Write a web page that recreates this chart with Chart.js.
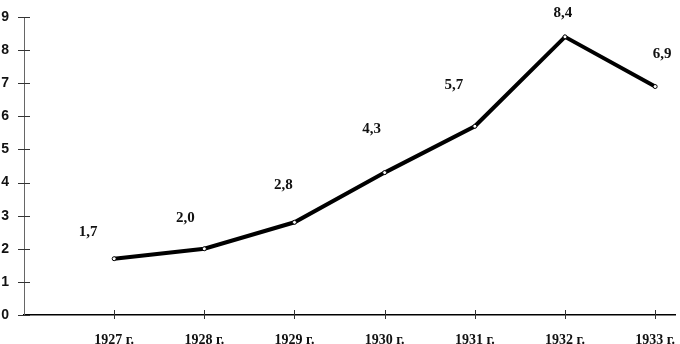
<!DOCTYPE html>
<html>
<head>
<meta charset="utf-8">
<script src="https://cdn.jsdelivr.net/npm/chart.js@4"></script>
<style>
  body { margin: 0; background: #fff; }
  canvas { display: block; }
</style>
</head>
<body>
<canvas id="myChart" width="680" height="344"></canvas>
<script>
const years = [1927, 1928, 1929, 1930, 1931, 1932, 1933];
const values = [1.7, 2.0, 2.8, 4.3, 5.7, 8.4, 6.9];
const valueLabels = ["1,7", "2,0", "2,8", "4,3", "5,7", "8,4", "6,9"];
const yTicks = [0, 1, 2, 3, 4, 5, 6, 7, 8, 9];

// label offsets from each point, in px
const labelOffsets = [[-26, -27], [-19, -31], [-11, -37], [-13, -43], [-21, -41], [-2, -24], [7, -32]];

const crossTicks = {
  id: "crossTicks",
  afterDraw(chart) {
    const ctx = chart.ctx;
    const x = chart.scales.x;
    const y = chart.scales.y;
    ctx.save();
    ctx.strokeStyle = "#333";
    ctx.lineWidth = 1;
    ctx.beginPath();
    yTicks.forEach((v) => {
      const py = Math.round(y.getPixelForValue(v)) + 0.5;
      ctx.moveTo(x.left - 6, py);
      ctx.lineTo(x.left + 6, py);
    });
    years.forEach((v) => {
      const px = Math.round(x.getPixelForValue(v)) + 0.5;
      ctx.moveTo(px, y.bottom - 5);
      ctx.lineTo(px, y.bottom + 4);
    });
    ctx.stroke();
    ctx.restore();
  },
};

const pointLabels = {
  id: "pointLabels",
  afterDatasetsDraw(chart) {
    const ctx = chart.ctx;
    const meta = chart.getDatasetMeta(0);
    ctx.save();
    ctx.fillStyle = "#111";
    ctx.font = "bold 15px 'Liberation Serif', serif";
    ctx.textAlign = "center";
    ctx.textBaseline = "middle";
    meta.data.forEach((pt, i) => {
      ctx.fillText(valueLabels[i], pt.x + labelOffsets[i][0], pt.y + labelOffsets[i][1]);
    });
    ctx.restore();
  },
};

new Chart(document.getElementById("myChart"), {
  type: "line",
  data: {
    datasets: [
      {
        data: years.map((yr, i) => ({ x: yr, y: values[i] })),
        borderColor: "#000",
        borderWidth: 4,
        pointRadius: 2,
        pointBorderWidth: 1,
        pointBackgroundColor: "#fff",
        pointBorderColor: "#000",
        tension: 0,
      },
    ],
  },
  options: {
    responsive: false,
    animation: false,
    layout: { padding: { top: 17, right: 0, left: 0, bottom: 0 } },
    plugins: { legend: { display: false }, tooltip: { enabled: false } },
    scales: {
      x: {
        type: "linear",
        min: 1926,
        max: 1933.22,
        afterBuildTicks: (scale) => {
          scale.ticks = years.map((v) => ({ value: v }));
        },
        afterFit: (scale) => {
          scale.height = 29;
          scale.paddingLeft = 0;
          scale.paddingRight = 0;
        },
        grid: { display: false, drawTicks: false },
        border: { display: true, color: "#000", width: 1.5 },
        ticks: {
          padding: 17,
          autoSkip: false,
          maxRotation: 0,
          color: "#111",
          font: { family: "'Liberation Serif', serif", size: 14, weight: "bold" },
          callback: (v) => v + " г.",
        },
      },
      y: {
        min: 0,
        max: 9,
        afterBuildTicks: (scale) => {
          scale.ticks = yTicks.map((v) => ({ value: v }));
        },
        afterFit: (scale) => {
          scale.width = 24;
          scale.paddingTop = 0;
          scale.paddingBottom = 0;
        },
        grid: { display: false, drawTicks: false },
        border: { display: true, color: "#666", width: 1 },
        ticks: {
          padding: 15,
          color: "#111",
          font: { family: "'Liberation Sans', sans-serif", size: 14, weight: "bold" },
        },
      },
    },
  },
  plugins: [crossTicks, pointLabels],
});
</script>
</body>
</html>
